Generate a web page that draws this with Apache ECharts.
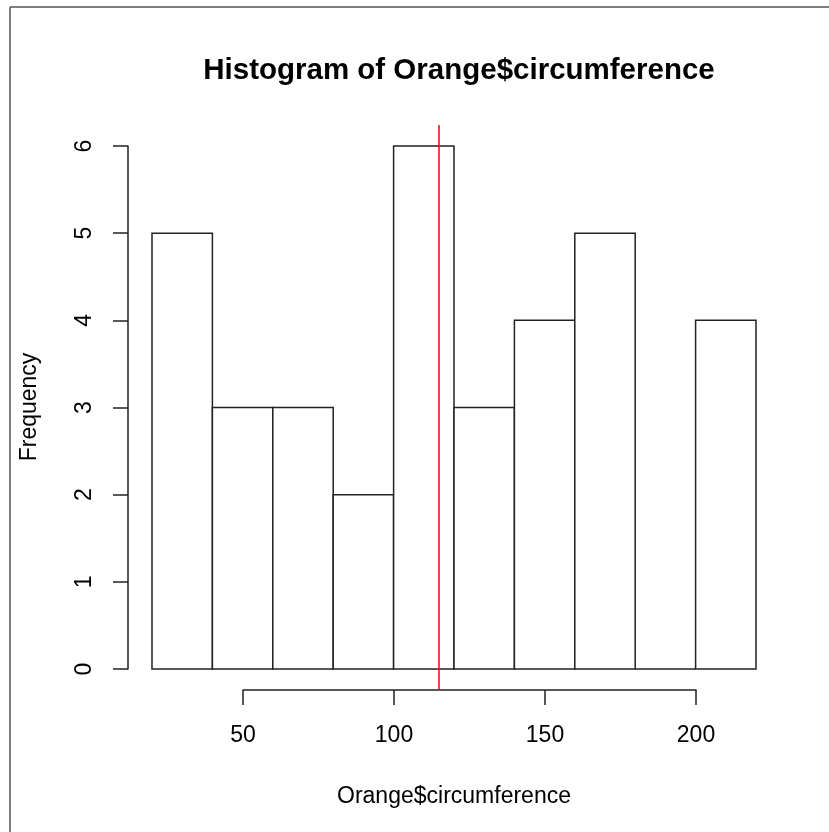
<!DOCTYPE html>
<html><head><meta charset="utf-8">
<script src="https://cdn.jsdelivr.net/npm/echarts@6/dist/echarts.min.js"></script>
<style>html,body{margin:0;padding:0;background:#fff}#c{width:829px;height:832px}</style>
</head><body><div id="c"></div>
<script>
const binStarts = [20, 40, 60, 80, 100, 120, 140, 160, 180, 200];
const binWidth = 20;
const counts = [5, 3, 3, 2, 6, 3, 4, 5, 0, 4];
const refValue = 115;
const yTicks = [0, 1, 2, 3, 4, 5, 6];
const xTicks = [50, 100, 150, 200];

const chart = echarts.init(document.getElementById('c'));
const font = '"Liberation Sans", Arial, sans-serif';
const barData = binStarts.map((s, i) => [s, s + binWidth, counts[i]]);

chart.setOption({
  animation: false,
  title: {
    text: 'Histogram of Orange$circumference',
    left: 454, textAlign: 'center', top: 51,
    textStyle: {fontFamily: font, fontSize: 29.5, fontWeight: 'bold', color: '#000'}
  },
  graphic: [
    {type: 'line', shape: {x1: 10, y1: 7, x2: 829, y2: 7}, style: {stroke: '#555', lineWidth: 1.5}},
    {type: 'line', shape: {x1: 10, y1: 7, x2: 10, y2: 832}, style: {stroke: '#555', lineWidth: 1.5}},
    {type: 'text', x: 30, y: 407, rotation: Math.PI / 2,
     style: {text: 'Frequency', font: '23px ' + font, fill: '#000', align: 'center', verticalAlign: 'middle'}}
  ],
  grid: [
    {left: 152, right: 73, top: 146, bottom: 163},
    {left: 243, right: 133, top: 146, bottom: 142},
    {left: 128, right: 49, top: 125, bottom: 142}
  ],
  xAxis: [
    {gridIndex: 0, type: 'value', min: 20, max: 220, show: false},
    {gridIndex: 1, type: 'value', min: xTicks[0], max: xTicks[xTicks.length - 1], interval: 50,
     axisLine: {show: true, lineStyle: {color: '#222', width: 1.5}},
     axisTick: {show: true, length: 15, lineStyle: {color: '#222', width: 1.5}},
     axisLabel: {margin: 34, fontFamily: font, fontSize: 23, color: '#000'},
     splitLine: {show: false}},
    {gridIndex: 2, type: 'value', min: 12, max: 228, show: true,
     axisLine: {show: false}, axisTick: {show: false}, axisLabel: {show: false}, splitLine: {show: false},
     name: 'Orange$circumference', nameLocation: 'middle', nameGap: 95,
     nameTextStyle: {fontFamily: font, fontSize: 23, color: '#000'}}
  ],
  yAxis: [
    {gridIndex: 0, type: 'value', min: yTicks[0], max: yTicks[yTicks.length - 1], interval: 1, offset: 24,
     axisLine: {show: true, lineStyle: {color: '#222', width: 1.5}},
     axisTick: {show: true, length: 15, lineStyle: {color: '#222', width: 1.5}},
     axisLabel: {margin: 32, rotate: 90, fontFamily: font, fontSize: 23, color: '#000'},
     splitLine: {show: false}},
    {gridIndex: 1, type: 'value', min: 0, max: 1, show: false},
    {gridIndex: 2, type: 'value', min: -0.24, max: 6.24, show: false}
  ],
  series: [
    {type: 'custom', xAxisIndex: 0, yAxisIndex: 0, data: barData,
     renderItem: function (params, api) {
       const p0 = api.coord([api.value(0), 0]);
       const p1 = api.coord([api.value(1), api.value(2)]);
       return {type: 'rect', shape: {x: p0[0], y: p1[1], width: p1[0] - p0[0], height: p0[1] - p1[1]},
         style: {fill: '#fff', stroke: '#222', lineWidth: 1.5}};
     }},
    {type: 'line', xAxisIndex: 2, yAxisIndex: 2, data: [],
     markLine: {silent: true, symbol: 'none', label: {show: false},
       lineStyle: {color: '#ff0000', width: 1.5, type: 'solid'},
       data: [{xAxis: refValue}]}}
  ]
});
</script></body></html>
